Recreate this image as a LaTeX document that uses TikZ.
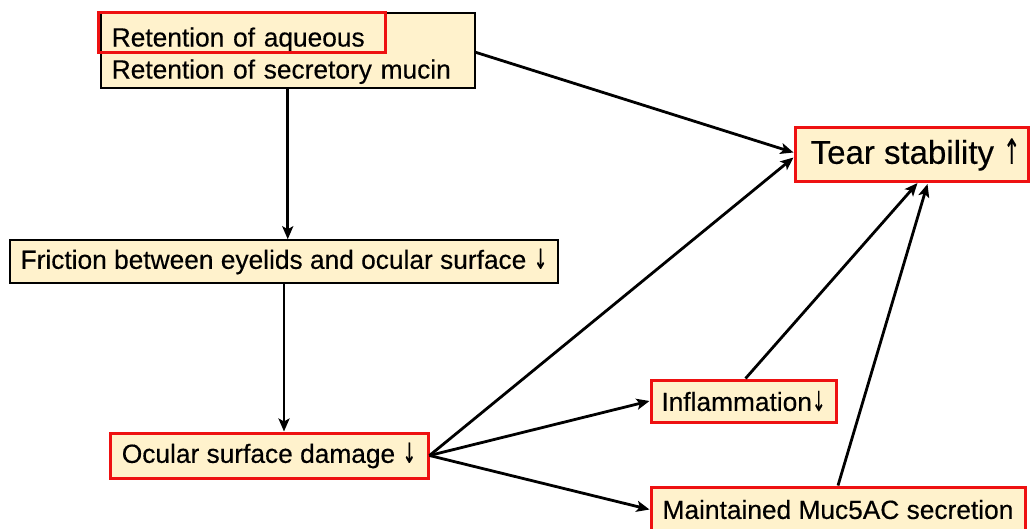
\documentclass[tikz,border=0pt]{standalone}
\usepackage{fontspec}
\setmainfont{Liberation Sans}[FakeBold=0.35]
\newfontfamily\arr{DejaVu Sans}[FakeBold=0.35]
\usetikzlibrary{arrows.meta,calc}
\definecolor{boxfill}{HTML}{FFF2CC}
\definecolor{boxred}{HTML}{EE1111}
\newcommand{\dn}{\scalebox{0.62}[1.05]{\arr\char"2193}}
\newcommand{\upar}{\scalebox{0.62}[1.05]{\arr\char"2191}}
\begin{document}
\begin{tikzpicture}[x=1pt,y=-1pt,
  base/.style={fill=boxfill,inner sep=0pt,font=\fontsize{26.3}{32}\selectfont},
  blackbox/.style={base,draw=black,line width=1.5pt},
  redbox/.style={base,draw=boxred,line width=3pt},
  conn/.style={line width=2.8pt,-{Stealth[length=13pt,width=11pt,inset=3pt]}}]
\useasboundingbox (0,0) rectangle (1032,528);
% boxes
\node[blackbox,anchor=north west,minimum width=371pt,minimum height=75pt,
      text width=352pt,align=left,inner xsep=11pt] (top) at (100,12)
      {\rule{0pt}{30pt}Retention of aqueous\\Retention of secretory mucin};
\node[draw=boxred,line width=3pt,minimum width=287pt,minimum height=40.5pt,inner sep=0pt] (aq) at (241.5,32.3) {};
\node[blackbox,minimum width=548pt,minimum height=43pt] (fric) at (284,261.5)
      {Friction between eyelids and ocular surface \dn};
\node[redbox,minimum width=318pt,minimum height=45pt] (ocu) at (269,455.5)
      {Ocular surface damage \dn};
\node[redbox,minimum width=233pt,minimum height=54pt,font=\fontsize{33}{38}\selectfont] (tear) at (911.5,154.5)
      {\hspace*{8pt}Tear stability \upar};
\node[redbox,minimum width=185pt,minimum height=42pt] (inf) at (743.5,401)
      {Inflammation\dn};
\node[redbox,minimum width=374pt,minimum height=45pt] (mai) at (838,509.5)
      {Maintained Muc5AC secretion};
% connectors
\draw[conn] (top.south) -- (top.south |- fric.north);
\draw[conn] (fric.south) -- (fric.south |- ocu.north);
\draw[conn] ($(top.east)+(0,2)$) -- ($(tear.west)+(0,-2)$);
\draw[conn] (ocu.east) -- ($(tear.west)+(0,3)$);
\draw[conn] (ocu.east) -- (inf.west);
\draw[conn] (ocu.east) -- (mai.west);
\draw[conn] ($(inf.north)+(2,0)$) -- ($(tear.south)+(6,0)$);
\draw[conn] (mai.north) -- ($(tear.south)+(16,1)$);
\end{tikzpicture}
\end{document}
